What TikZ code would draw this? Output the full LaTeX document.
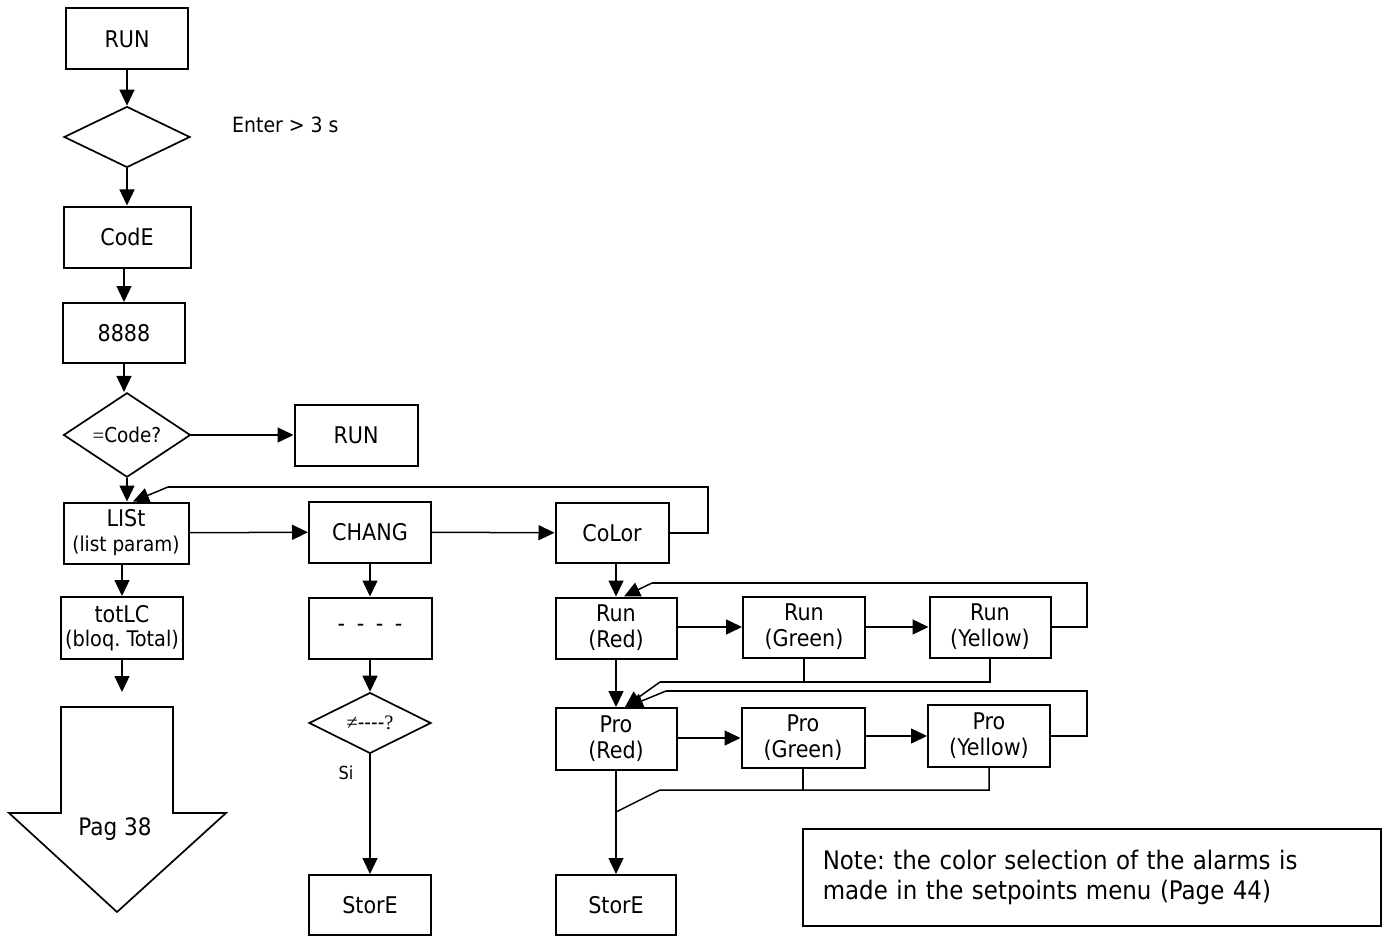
\documentclass[tikz,border=0pt]{standalone}
\usepackage{fontspec}
\setmainfont{DejaVu Sans Condensed}
\newfontfamily\serifsym{Liberation Serif}
\usetikzlibrary{shapes.geometric,arrows.meta}
\frenchspacing
\begin{document}
\begin{tikzpicture}[x=1pt,y=-1pt,
  box/.style={draw,line width=2pt,minimum width=#1,minimum height=61pt,inner sep=0pt,align=center,font=\fontsize{23}{26}\selectfont},
  box/.default=122pt,
  dia/.style={draw,diamond,line width=1.7pt,minimum width=126pt,minimum height=61pt,inner sep=0pt,font=\fontsize{20.5}{23}\selectfont},
  arr/.style={line width=1.5pt,-{Triangle[length=16pt,width=15pt]}},
  ln/.style={line width=1.5pt},
  lbl/.style={font=\fontsize{21}{24}\selectfont,inner sep=0pt},
]
\useasboundingbox (0,0) rectangle (1383,936);

% left column
\node[box=122pt] (run1) at (127,39) {RUN};
\node[dia] (d1) at (127,137) {};
\node[lbl,anchor=west] (enter) at (232,125) {Enter > 3 s};
\node[box=127pt] (code) at (127,237) {CodE};
\node[box=122pt,minimum height=60pt] (n8888) at (124,333) {8888};
\node[dia,minimum width=127pt,minimum height=60pt] (d2) at (127,435) {{\serifsym =}Code?};
\node[box=123pt] (run2) at (356,435) {RUN};
\node[box=125pt,minimum height=61pt] (list) at (126,533) {LISt\\[-1pt]{\fontsize{20.5}{22}\selectfont (list param)}};
\node[box=122pt,minimum height=62pt] (totlc) at (122,628) {totLC\\[-2pt]{\fontsize{21.5}{22}\selectfont (bloq. Total)}};
\coordinate (totend) at (122,692);
\draw[line width=1.7pt] (61,707) -- (173,707) -- (173,813) -- (226,813) -- (117,912) -- (9,813) -- (61,813) -- cycle;
\node[font=\fontsize{24}{26}\selectfont] (pag) at (115,829) {Pag 38};

% middle column
\node[box=122pt,minimum height=61pt] (chang) at (370,532) {CHANG};
\node[box=123pt] (dash) at (370,628) {-\hspace{5pt} -\hspace{5pt} -\hspace{5pt} -};
\node[dia,minimum width=122pt,minimum height=60pt] (d3) at (370,723) {{\serifsym ≠}{-}{-}{-}{-}{\serifsym ?}};
\node[font=\fontsize{18}{20}\selectfont] (si) at (346,773) {Si};
\node[box=122pt,minimum height=60pt] (store1) at (370,905) {StorE};

% color column
\node[box=113pt,minimum height=60pt] (color) at (612,533) {CoLor};
\node[box=121pt] (runred) at (616,628) {Run\\(Red)};
\node[box=122pt] (rungreen) at (804,627) {Run\\(Green)};
\node[box=121pt] (runyellow) at (990,627) {Run\\(Yellow)};
\node[box=121pt,minimum height=62pt] (prored) at (616,739) {Pro\\(Red)};
\node[box=123pt,minimum height=60pt] (progreen) at (803,738) {Pro\\(Green)};
\node[box=122pt,minimum height=62pt] (proyellow) at (989,736) {Pro\\(Yellow)};
\node[box=120pt,minimum height=60pt] (store2) at (616,905) {StorE};

\node[draw,line width=1.6pt,anchor=north west,minimum height=97pt,text width=538pt,inner xsep=20pt,align=left,font=\fontsize{25.5}{30}\selectfont] (note) at (802,828) {Note: the color selection of the alarms is\\made in the setpoints menu (Page 44)};

% coordinates for feedback lines
\coordinate (fb1a) at (708,487);
\coordinate (fb1b) at (168,487);
\coordinate (fb2a) at (1087,583);
\coordinate (fb2b) at (652,583);
\coordinate (bus1a) at (990,682);
\coordinate (bus1b) at (804,682);
\coordinate (bus1c) at (660,682);
\coordinate (fb3a) at (1087,691);
\coordinate (fb3b) at (666,691);
\coordinate (bus2a) at (989,790);
\coordinate (bus2b) at (803,790);
\coordinate (bus2c) at (660,790);
\coordinate (join) at (616,812);

% left column arrows
\draw[arr] (run1) -- (d1);
\draw[arr] (d1) -- (code);
\draw[arr] (code.south -| n8888.north) -- (n8888.north);
\draw[arr] (n8888.south) -- (n8888.south |- d2.north);
\draw[arr] (d2) -- (run2);
\draw[arr] (d2) -- (list.north -| d2.south);
\draw[arr] (list) -- (chang);
\draw[arr] (chang) -- (color);
\draw[ln] (color.east) -| (fb1a) -- (fb1b);
\draw[arr] (fb1b) -- ([xshift=7pt]list.north);
\draw[arr] (totlc.north |- list.south) -- (totlc.north);
\draw[arr] (totlc.south) -- (totend);

% middle arrows
\draw[arr] (chang) -- (dash);
\draw[arr] (dash) -- (d3);
\draw[arr] (d3) -- (store1);

% color section arrows
\draw[arr] (runred.north |- color.south) -- (runred.north);
\draw[arr] (runred.east |- rungreen.west) -- (rungreen.west);
\draw[arr] (rungreen) -- (runyellow);
\draw[ln] (runyellow.east) -| (fb2a) -- (fb2b);
\draw[arr] (fb2b) -- ([xshift=8pt]runred.north);
\draw[arr] (runred) -- (prored);
\draw[ln] (rungreen.south) -- (bus1b);
\draw[ln] (runyellow.south) -- (bus1a) -- (bus1c);
\draw[arr] (bus1c) -- ([xshift=9pt]prored.north);
\draw[ln] (proyellow.east) -| (fb3a) -- (fb3b);
\draw[arr] (fb3b) -- ([xshift=11pt]prored.north);
\draw[arr] (prored.east |- progreen.west) -- (progreen.west);
\draw[arr] (progreen.east |- proyellow.west) -- (proyellow.west);
\draw[ln] (progreen.south) -- (bus2b);
\draw[ln] (proyellow.south) -- (bus2a) -- (bus2c) -- (join);
\draw[arr] (prored.south) -- (store2.north);
\end{tikzpicture}
\end{document}
